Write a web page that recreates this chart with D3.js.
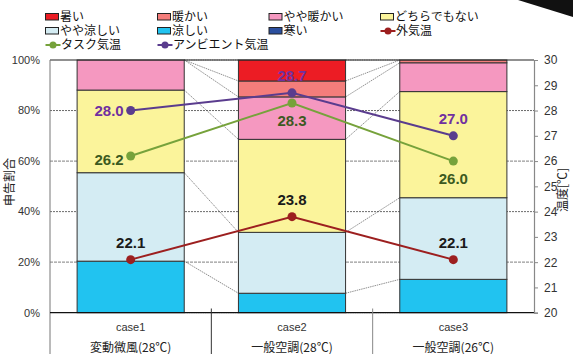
<!DOCTYPE html>
<html><head><meta charset="utf-8">
<script src="https://cdn.jsdelivr.net/npm/d3@7"></script>
<style>
html,body{margin:0;padding:0;background:#fff;}
svg{display:block;}
text{font-family:"Liberation Sans","Noto Sans CJK JP",sans-serif;}
.jp{font-family:"Noto Sans CJK JP","Liberation Sans",sans-serif;}
</style></head>
<body>
<svg id="c" width="573" height="354"></svg>
<script>
// ---- data ----
const cases = ["case1", "case2", "case3"];
const caseNames = ["変動微風(28℃)", "一般空調(28℃)", "一般空調(26℃)"];
const seriesNames = ["寒い", "涼しい", "やや涼しい", "どちらでもない", "やや暖かい", "暖かい", "暑い"]; // bottom -> top
const samui      = [0, 0, 0];
const suzushii   = [20.4, 7.7, 13.2];
const yayaSuzu   = [35.0, 24.1, 32.3];
const dochira    = [32.7, 36.8, 42.0];
const yayaDan    = [11.9, 16.8, 11.4];
const danka      = [0, 6.3, 1.1];
const atsui      = [0, 8.3, 0];
const outdoorT   = [22.1, 23.8, 22.1];
const taskT      = [26.2, 28.3, 26.0];
const ambientT   = [28.0, 28.7, 27.0];
const pctTicks   = [0, 20, 40, 60, 80, 100];
const tempTicks  = [20, 21, 22, 23, 24, 25, 26, 27, 28, 29, 30];

// ---- style ----
const segColors = ["#2b4f9e", "#21c3f0", "#d4ecf3", "#fbf49b", "#f598c0", "#f47d7b", "#ec1c24"];
const lineDefs = [
  {name: "外気温", vals: outdoorT, color: "#9c1f1f", text: "#1a1a1a", pos: ["above", "above", "above"]},
  {name: "タスク気温", vals: taskT, color: "#76a23b", text: "#3c5a1f", pos: ["left", "below", "below"]},
  {name: "アンビエント気温", vals: ambientT, color: "#5a3c8e", text: "#7030a0", pos: ["left", "above", "above"]}
];

const svg = d3.select("#c");
const L = 50, R = 534, T = 60, B = 312.7;

const x = d3.scaleBand().domain(cases).range([L, R]).paddingInner(0.336).paddingOuter(0.168);
const y = d3.scaleLinear().domain([0, 100]).range([B, T]);
const yT = d3.scaleLinear().domain([20, 30]).range([B, T]);

const rows = [samui, suzushii, yayaSuzu, dochira, yayaDan, danka, atsui];
const table = cases.map((c, i) => {
  const o = {case: c};
  seriesNames.forEach((s, k) => o[s] = rows[k][i]);
  return o;
});
const stacked = d3.stack().keys(seriesNames)(table);

// gridlines
const g0 = svg.append("g");
[20, 40, 60, 80].forEach(v => {
  g0.append("line").attr("x1", L).attr("x2", R).attr("y1", y(v)).attr("y2", y(v))
    .attr("stroke", (v === 40 || v === 80) ? "#444" : "#999")
    .attr("stroke-width", (v === 40 || v === 80) ? 0.8 : 1.3)
    .attr("stroke-dasharray", (v === 40 || v === 80) ? "2,1" : "3,1");
});

// connectors between bars (cumulative boundaries)
const gc = svg.append("g");
for (let i = 0; i < cases.length - 1; i++) {
  stacked.forEach(layer => {
    const a = layer[i][1], b = layer[i + 1][1];
    gc.append("line")
      .attr("x1", x(cases[i]) + x.bandwidth()).attr("y1", y(a))
      .attr("x2", x(cases[i + 1])).attr("y2", y(b))
      .attr("stroke", "#444").attr("stroke-width", 0.6).attr("stroke-dasharray", "1.5,0.8");
  });
}

// bars
const gb = svg.append("g");
stacked.forEach((layer, k) => {
  gb.selectAll(null).data(layer).enter().append("rect")
    .attr("x", d => x(d.data.case))
    .attr("width", x.bandwidth())
    .attr("y", d => y(d[1]))
    .attr("height", d => y(d[0]) - y(d[1]))
    .attr("fill", segColors[k])
    .attr("stroke", d => (d[1] - d[0]) > 0 ? "#333" : "none")
    .attr("stroke-width", 1);
});

// top border & axis lines
svg.append("line").attr("x1", L).attr("x2", R).attr("y1", T).attr("y2", T).attr("stroke", "#222").attr("stroke-width", 1.2);
svg.append("line").attr("x1", L).attr("x2", L).attr("y1", T).attr("y2", 354).attr("stroke", "#777").attr("stroke-width", 1);
svg.append("line").attr("x1", L).attr("x2", R).attr("y1", B).attr("y2", B).attr("stroke", "#111").attr("stroke-width", 1.2);

// left axis labels
const gl = svg.append("g");
gl.selectAll("text").data(pctTicks).enter().append("text")
  .attr("x", 40).attr("y", d => y(d)).attr("dy", "0.35em").attr("text-anchor", "end")
  .attr("font-size", 11).attr("fill", "#333").text(d => d + "%");

// right axis
const gr = svg.append("g").attr("transform", `translate(${R},0)`)
  .call(d3.axisRight(yT).tickValues(tempTicks).tickSize(4).tickPadding(6).tickFormat(d3.format("d")));
gr.select(".domain").attr("stroke", "#888").attr("stroke-width", 1.2);
gr.selectAll(".tick line").attr("stroke", "#888");
gr.selectAll(".tick text").attr("font-size", 12).attr("fill", "#333")
  .attr("font-family", "Liberation Sans, sans-serif");

// axis titles
svg.append("text").attr("class", "jp").attr("transform", "translate(10,182) rotate(-90)")
  .attr("text-anchor", "middle").attr("dy", "0.35em").attr("font-size", 12).attr("fill", "#222").text("申告割合");
svg.append("text").attr("class", "jp").attr("transform", "translate(563,190) rotate(-90)")
  .attr("text-anchor", "middle").attr("dy", "0.35em").attr("font-size", 12).attr("fill", "#222").text("温度[℃]");

// category area
const sepX = [L, (x("case1") + x.bandwidth() + x("case2")) / 2, (x("case2") + x.bandwidth() + x("case3")) / 2];
sepX.slice(1).forEach((sx, i) => {
  svg.append("line").attr("x1", sx).attr("x2", sx).attr("y1", 308.5).attr("y2", 354)
    .attr("stroke", i === 0 ? "#333" : "#888").attr("stroke-width", 1);
});
cases.forEach((c, i) => {
  const cx = x(c) + x.bandwidth() / 2;
  svg.append("text").attr("x", cx).attr("y", 327).attr("dy", "0.35em").attr("text-anchor", "middle")
    .attr("font-size", 11).attr("fill", "#333").text(c);
  svg.append("text").attr("class", "jp").attr("x", cx).attr("y", 348).attr("dy", "0.35em").attr("text-anchor", "middle")
    .attr("font-size", 12).attr("fill", "#222").text(caseNames[i]);
});

// lines
const line = d3.line().x((d, i) => x(cases[i]) + x.bandwidth() / 2).y(d => yT(d));
lineDefs.forEach(ld => {
  svg.append("path").attr("d", line(ld.vals)).attr("fill", "none").attr("stroke", ld.color).attr("stroke-width", 2);
});
lineDefs.forEach(ld => {
  svg.selectAll(null).data(ld.vals).enter().append("circle")
    .attr("cx", (d, i) => x(cases[i]) + x.bandwidth() / 2).attr("cy", d => yT(d)).attr("r", 4.5)
    .attr("fill", ld.color);
});
lineDefs.forEach(ld => {
  ld.vals.forEach((v, i) => {
    const cx = x(cases[i]) + x.bandwidth() / 2, cy = yT(v);
    let tx = cx, ty = cy, anchor = "middle";
    if (ld.pos[i] === "above") ty = cy - 17;
    if (ld.pos[i] === "below") ty = cy + 18;
    if (ld.pos[i] === "left") { tx = cx - 7; anchor = "end"; ty = cy + (ld.name === "タスク気温" ? 4 : 0); }
    svg.append("text").attr("x", tx).attr("y", ty).attr("dy", "0.35em").attr("text-anchor", anchor)
      .attr("font-size", 15).attr("font-weight", "bold")
      .attr("font-family", "Liberation Sans Narrow, Liberation Sans, sans-serif")
      .attr("fill", ld.text).text(v.toFixed(1));
  });
});

// legend
const legItems = [
  {t: "rect", k: 6}, {t: "rect", k: 5}, {t: "rect", k: 4}, {t: "rect", k: 3},
  {t: "rect", k: 2}, {t: "rect", k: 1}, {t: "rect", k: 0}, {t: "line", k: 0},
  {t: "line", k: 1}, {t: "line", k: 2}
];
const colX = [45.5, 157.5, 269, 380.5], rowY = [17, 31, 45];
legItems.forEach((it, j) => {
  const lx = colX[j % 4], ly = rowY[Math.floor(j / 4)];
  const g = svg.append("g");
  if (it.t === "rect") {
    g.append("rect").attr("x", lx).attr("y", ly - 3.5).attr("width", 13).attr("height", 6.5)
      .attr("fill", segColors[it.k]).attr("stroke", "#222").attr("stroke-width", 1);
    g.append("text").attr("class", "jp").attr("x", lx + 14.5).attr("y", ly).attr("dy", "0.35em")
      .attr("font-size", 12).attr("fill", "#111").text(seriesNames[it.k]);
  } else {
    const ld = lineDefs[it.k];
    g.append("line").attr("x1", lx).attr("x2", lx + 15).attr("y1", ly).attr("y2", ly).attr("stroke", ld.color).attr("stroke-width", 2);
    g.append("circle").attr("cx", lx + 7.5).attr("cy", ly).attr("r", 3.5).attr("fill", ld.color);
    g.append("text").attr("class", "jp").attr("x", lx + 15.5).attr("y", ly).attr("dy", "0.35em")
      .attr("font-size", 12).attr("fill", "#111").text(ld.name);
  }
});

// corner decoration
svg.append("path").attr("d", "M518,0 L573,0 L573,17 Z").attr("fill", "#111");
</script>
</body></html>
